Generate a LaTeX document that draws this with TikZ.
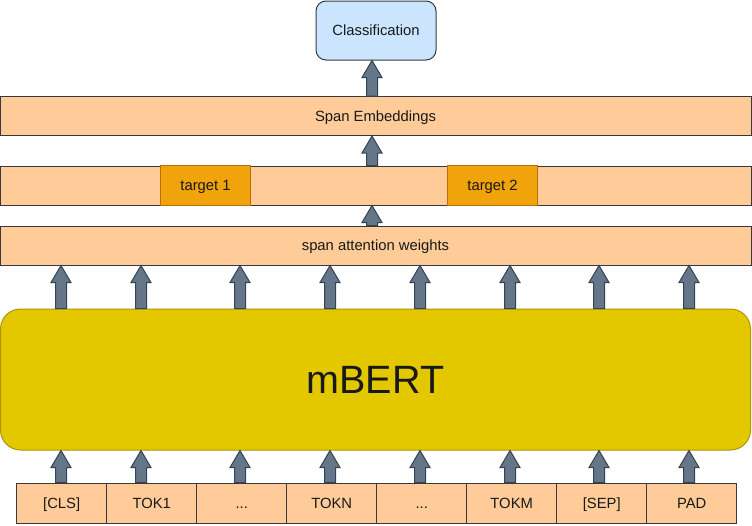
\documentclass[tikz,border=0pt]{standalone}
\usepackage{fontspec}
\setmainfont{Liberation Sans}
\usepackage{xcolor}
\usetikzlibrary{calc}
\definecolor{peach}{HTML}{FFCC99}
\definecolor{edgegray}{HTML}{36393D}
\definecolor{skyfill}{HTML}{CCE5FF}
\definecolor{tgtfill}{HTML}{F0A30A}
\definecolor{tgtline}{HTML}{BD7000}
\definecolor{bertfill}{HTML}{E3C800}
\definecolor{bertline}{HTML}{B09500}
\definecolor{arrfill}{HTML}{647687}
\definecolor{arrline}{HTML}{314354}
\newcommand{\tokdots}{...}
\tikzset{
  bar/.style={draw=edgegray, fill=peach, line width=1pt, minimum width=751pt,
              minimum height=39pt, inner sep=0pt, text=black!90,
              text height=10.6pt, text depth=0pt,
              font=\fontsize{14.8}{17}\selectfont},
  tokbox/.style={bar, minimum width=90pt, minimum height=40pt},
  tgtbox/.style={bar, draw=tgtline, fill=tgtfill, minimum width=90pt, minimum height=40pt},
}
% filled block arrow from #1 (base) to #2 (tip)
\newcommand{\blockarrow}[2]{%
  \filldraw[fill=arrfill, draw=arrline, line width=1pt, line join=miter]
    let \p1=#1, \p2=#2 in
    (\x1-5.5pt,\y1) -- (\x1-5.5pt,\y2-17pt) -- (\x1-10pt,\y2-17pt) -- (\x1,\y2)
    -- (\x1+10pt,\y2-17pt) -- (\x1+5.5pt,\y2-17pt) -- (\x1+5.5pt,\y1) -- cycle;}

\begin{document}
\begin{tikzpicture}[x=1pt, y=-1pt]
  \useasboundingbox (0,0) rectangle (752,525);

  % output
  \node[bar, fill=skyfill, rounded corners=10pt, minimum width=120pt, minimum height=59pt]
    (cls) at (376,30.5) {Classification};
  \node[bar] (spanemb) at (375.5,116) {Span Embeddings};

  % targets
  \node[bar] (spanrow) at (375.5,185.5) {};
  \node[tgtbox] (tgtA) at (205.5,185.5) {target 1};
  \node[tgtbox] (tgtB) at (492.5,185.5) {target 2};

  \node[bar] (attn) at (375.5,245.5) {span attention weights};

  % encoder
  \node[draw=bertline, fill=bertfill, line width=1pt, rounded corners=20pt,
        minimum width=750pt, minimum height=141pt, inner sep=0pt, text=black!90,
        text height=28.2pt, text depth=0pt,
        font=\fontsize{39.5}{45}\selectfont] (bert) at (375.5,379.5) {mBERT};

  % input tokens
  \foreach \t [count=\i] in {[CLS], TOK1, \tokdots, TOKN, \tokdots, TOKM, [SEP], PAD}
    \node[tokbox] (tok\i) at (61.7+90*\i-90,503) {\t};

  % arrows
  \blockarrow{(372,0 |- spanemb.north)}{(372,0 |- cls.south)}
  \blockarrow{(372,0 |- spanrow.north)}{(372,0 |- spanemb.south)}
  \blockarrow{(372,0 |- attn.north)}{(372,0 |- spanrow.south)}
  \foreach \i/\xa in {1/61,2/141,3/240,4/330,5/420,6/510,7/599,8/689} {
    \blockarrow{(\xa,0 |- bert.north)}{(\xa,0 |- attn.south)}
    \blockarrow{(\xa,0 |- tok\i.north)}{(\xa,0 |- bert.south)}
  }
\end{tikzpicture}
\end{document}
